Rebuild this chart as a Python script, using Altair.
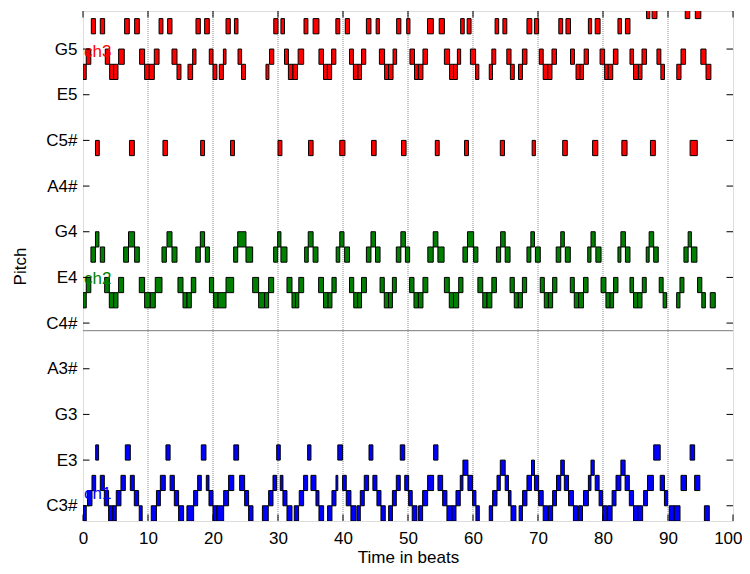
import altair as alt
import pandas as pd

# ---- note lists: (onset beat, offset beat, MIDI pitch)
ch1_notes = [
    (0.0, 0.5, 48), (0.7, 1.38, 49), (1.38, 1.95, 50), (1.95, 2.4, 52), (2.66, 3.28, 50),
    (3.28, 3.94, 49), (3.94, 4.61, 48), (4.61, 5.12, 48), (5.12, 5.84, 49), (5.84, 6.51, 50),
    (6.51, 7.28, 52), (7.28, 7.89, 50), (7.89, 8.56, 49), (8.65, 9.1, 48), (10.5, 11.3, 48),
    (11.3, 11.9, 49), (11.9, 12.66, 50), (12.76, 13.4, 52), (13.4, 14.05, 50), (14.05, 14.71, 49),
    (14.71, 15.48, 48), (15.99, 17.02, 48), (17.02, 17.64, 49), (17.64, 18.2, 50), (18.2, 18.92, 52),
    (18.97, 19.38, 50), (19.38, 20.0, 49), (20.0, 20.61, 48), (20.61, 21.64, 48), (21.64, 22.4, 49),
    (22.4, 23.2, 50), (23.2, 23.94, 52), (24.1, 24.87, 50), (24.87, 25.48, 49), (25.48, 26.15, 48),
    (27.6, 28.5, 48), (28.56, 29.23, 49), (29.23, 29.8, 50), (29.8, 30.35, 52), (30.35, 30.76, 50),
    (30.76, 31.38, 49), (31.38, 32.15, 48), (32.5, 33.17, 48), (33.27, 33.94, 49), (33.94, 34.56, 50),
    (34.56, 35.07, 52), (35.07, 35.84, 50), (35.84, 36.3, 49), (36.3, 37.02, 48), (37.63, 38.3, 48),
    (38.3, 38.92, 49), (38.92, 39.2, 50), (39.2, 39.94, 52), (39.94, 40.5, 50), (40.5, 41.22, 49),
    (41.22, 41.99, 48), (42.15, 42.66, 48), (42.66, 43.27, 49), (43.27, 43.94, 50), (44.0, 44.6, 52),
    (44.6, 45.22, 50), (45.22, 45.84, 49), (45.84, 46.5, 48), (47.02, 47.6, 48), (47.6, 48.2, 49),
    (48.2, 48.81, 50), (48.81, 49.5, 52), (49.5, 50.1, 50), (50.1, 50.65, 49), (50.65, 51.38, 48),
    (51.63, 52.25, 48), (52.25, 53.02, 49), (53.02, 53.94, 50), (53.94, 54.61, 52), (54.61, 55.33, 50),
    (55.33, 55.99, 49), (55.99, 56.76, 48), (56.76, 57.38, 48), (57.38, 58.04, 49), (58.04, 58.45, 50),
    (58.45, 59.22, 51), (59.22, 59.94, 50), (59.94, 60.45, 49), (60.45, 60.97, 48), (62.5, 63.02, 48),
    (63.02, 63.69, 49), (63.69, 64.2, 50), (64.2, 64.95, 51), (64.95, 65.45, 50), (65.45, 65.85, 49),
    (65.85, 66.6, 48), (67.1, 67.6, 48), (67.63, 68.3, 49), (68.3, 69.0, 50), (69.0, 69.45, 51),
    (69.45, 70.1, 50), (70.1, 70.8, 49), (70.8, 71.5, 48), (71.6, 72.25, 48), (72.25, 72.85, 49),
    (72.85, 73.5, 50), (73.5, 74.05, 51), (74.05, 74.7, 50), (74.7, 75.45, 49), (75.45, 76.1, 48),
    (76.25, 76.85, 48), (77.0, 77.75, 49), (77.75, 78.15, 50), (78.15, 78.65, 51), (78.8, 79.4, 50),
    (79.4, 79.95, 49), (79.95, 80.6, 48), (80.7, 81.4, 48), (81.4, 82.0, 49), (82.0, 82.75, 50),
    (82.75, 83.4, 51), (83.4, 84.05, 50), (84.05, 84.7, 49), (84.7, 85.35, 48), (85.35, 86.1, 48),
    (86.25, 86.85, 49), (86.85, 87.75, 50), (87.8, 88.8, 52), (88.8, 89.45, 50), (89.45, 89.95, 49),
    (90.2, 90.95, 48), (90.95, 91.85, 48), (92.0, 92.85, 50), (93.4, 94.1, 52), (94.1, 94.9, 50),
    (95.6, 96.35, 48),
]

ch2_notes = [
    (0.0, 0.5, 62), (0.5, 1.2, 63), (1.22, 1.92, 65), (1.92, 2.45, 66), (2.66, 3.33, 65),
    (3.33, 4.05, 63), (4.05, 4.71, 62), (4.71, 5.38, 62), (5.48, 6.25, 63), (6.25, 7.0, 65),
    (7.0, 7.94, 66), (7.94, 8.66, 65), (8.66, 9.48, 63), (9.48, 10.35, 62), (10.35, 11.12, 62),
    (11.12, 12.15, 63), (12.15, 12.82, 65), (12.92, 13.69, 66), (13.69, 14.46, 65), (14.61, 15.38, 63),
    (15.38, 16.0, 62), (16.0, 16.66, 62), (16.66, 17.35, 63), (17.35, 18.05, 65), (18.05, 18.71, 66),
    (18.82, 19.45, 65), (19.45, 20.1, 63), (20.1, 20.76, 62), (20.76, 22.0, 62), (22.0, 23.18, 63),
    (23.18, 23.8, 65), (23.8, 25.07, 66), (25.07, 26.1, 65), (26.1, 27.02, 63), (27.02, 27.94, 62),
    (27.94, 28.56, 62), (28.56, 29.33, 63), (29.33, 29.95, 65), (29.95, 30.45, 66), (30.45, 31.38, 65),
    (31.38, 32.15, 63), (32.15, 32.7, 62), (32.7, 33.2, 62), (33.2, 33.95, 63), (34.1, 34.65, 65),
    (34.65, 35.4, 66), (35.4, 36.15, 65), (36.25, 37.0, 63), (37.0, 37.7, 62), (37.7, 38.3, 62),
    (38.3, 38.95, 63), (38.95, 39.5, 65), (39.5, 40.15, 66), (40.25, 41.0, 65), (41.0, 41.65, 63),
    (41.65, 42.25, 62), (42.25, 42.85, 62), (42.85, 43.6, 63), (43.6, 44.3, 65), (44.3, 45.0, 66),
    (45.0, 45.7, 65), (45.7, 46.35, 63), (46.35, 47.0, 62), (47.0, 47.6, 62), (47.6, 48.2, 63),
    (48.2, 48.9, 65), (48.9, 49.6, 66), (49.6, 50.25, 65), (50.25, 50.92, 63), (50.92, 51.6, 62),
    (51.6, 52.3, 62), (52.3, 53.05, 63), (53.05, 53.88, 65), (53.88, 54.6, 66), (54.6, 55.55, 65),
    (55.6, 56.35, 63), (56.35, 57.0, 62), (57.0, 57.8, 62), (57.8, 58.45, 63), (58.45, 59.15, 65),
    (59.15, 60.1, 66), (60.1, 60.75, 65), (60.75, 61.5, 63), (61.5, 62.15, 62), (62.15, 62.9, 62),
    (62.9, 63.6, 63), (63.6, 64.25, 65), (64.25, 64.95, 66), (64.95, 65.7, 65), (65.7, 66.35, 63),
    (66.35, 66.97, 62), (66.97, 67.6, 62), (67.6, 68.25, 63), (68.3, 68.9, 65), (68.9, 69.45, 66),
    (69.6, 70.35, 65), (70.35, 70.97, 63), (70.97, 71.6, 62), (71.6, 72.25, 62), (72.25, 72.9, 63),
    (72.8, 73.5, 65), (73.5, 74.05, 66), (74.2, 74.97, 65), (74.97, 75.58, 63), (75.58, 76.25, 62),
    (76.25, 77.0, 62), (77.0, 77.7, 63), (77.65, 78.15, 65), (78.15, 78.8, 66), (78.9, 79.7, 65),
    (79.7, 80.45, 63), (80.45, 81.07, 62), (81.07, 81.63, 62), (81.63, 82.3, 63), (82.3, 82.75, 65),
    (82.75, 83.45, 66), (83.45, 84.15, 65), (84.15, 84.7, 63), (84.7, 85.33, 62), (85.33, 86.0, 62),
    (86.05, 86.65, 63), (86.65, 87.1, 65), (87.1, 87.8, 66), (87.8, 88.5, 65), (88.65, 89.25, 63),
    (89.25, 89.8, 62), (91.33, 91.84, 62), (91.84, 92.45, 63), (92.45, 93.1, 65), (93.1, 93.6, 66),
    (93.6, 94.45, 65), (94.55, 95.2, 63), (95.2, 95.75, 62), (96.5, 97.27, 62),
]

ch3_notes = [
    (0.0, 0.5, 77), (0.5, 1.2, 78), (1.28, 1.92, 80), (1.92, 2.5, 72), (2.66, 3.33, 80),
    (3.43, 4.1, 78), (4.1, 4.71, 77), (4.71, 5.38, 77), (5.48, 6.35, 78), (6.4, 7.12, 80),
    (7.15, 7.9, 72), (7.94, 8.66, 80), (8.71, 9.48, 78), (9.48, 10.2, 77), (10.2, 10.97, 77),
    (10.97, 11.7, 78), (11.7, 12.3, 80), (12.3, 13.0, 72), (13.02, 13.69, 80), (13.69, 14.46, 78),
    (14.46, 15.07, 77), (16.15, 16.87, 77), (16.87, 17.38, 78), (17.38, 18.05, 80), (18.1, 18.7, 72),
    (18.71, 19.43, 80), (19.43, 20.0, 78), (20.0, 20.6, 77), (20.97, 21.6, 77), (21.6, 22.0, 78),
    (22.0, 22.66, 80), (22.7, 23.3, 72), (23.3, 23.84, 80), (23.85, 24.4, 78), (24.4, 25.0, 77),
    (28.15, 28.6, 77), (28.7, 29.35, 78), (29.35, 30.0, 80), (30.0, 30.6, 72), (30.45, 31.0, 80),
    (31.0, 31.6, 78), (31.6, 32.3, 77), (32.3, 33.0, 77), (33.1, 33.95, 78), (34.0, 34.6, 80),
    (34.7, 35.4, 72), (35.4, 36.3, 80), (36.3, 37.0, 78), (37.0, 37.6, 77), (37.6, 38.25, 77),
    (38.25, 38.9, 78), (38.9, 39.5, 80), (39.5, 40.3, 72), (40.35, 41.0, 80), (41.0, 41.6, 78),
    (41.6, 42.3, 77), (42.3, 42.85, 77), (42.85, 43.5, 78), (43.6, 44.3, 80), (44.4, 45.1, 72),
    (45.1, 45.6, 80), (45.6, 46.4, 78), (46.4, 47.0, 77), (47.0, 47.7, 77), (47.7, 48.25, 78),
    (48.25, 48.9, 80), (49.0, 49.7, 72), (49.8, 50.3, 80), (50.3, 51.0, 78), (51.0, 51.6, 77),
    (51.6, 52.3, 77), (52.3, 53.0, 78), (53.0, 53.9, 80), (54.2, 54.8, 72), (54.8, 55.6, 80),
    (55.6, 56.4, 78), (56.4, 57.0, 77), (57.0, 57.6, 77), (57.6, 58.1, 78), (58.1, 58.65, 80),
    (58.7, 59.3, 72), (59.1, 59.7, 80), (59.6, 60.4, 78), (60.4, 60.9, 77), (62.5, 63.0, 77),
    (62.9, 63.5, 78), (63.4, 63.95, 80), (64.2, 64.85, 72), (64.6, 65.2, 80), (65.2, 65.85, 78),
    (65.75, 66.35, 77), (67.0, 67.6, 77), (67.6, 68.3, 78), (68.3, 69.05, 80), (69.1, 69.6, 72),
    (69.45, 70.1, 80), (70.2, 70.8, 78), (70.8, 71.5, 77), (71.5, 72.15, 77), (72.15, 72.85, 78),
    (73.2, 73.8, 80), (73.8, 74.5, 72), (74.3, 75.0, 80), (75.0, 75.6, 78), (75.85, 76.45, 77),
    (76.45, 77.0, 77), (77.1, 77.75, 78), (77.75, 78.25, 80), (78.4, 79.2, 72), (78.8, 79.55, 80),
    (79.55, 80.25, 78), (80.25, 80.8, 77), (80.8, 81.5, 77), (81.6, 82.3, 78), (82.3, 82.85, 80),
    (82.9, 83.7, 72), (83.45, 84.15, 80), (84.15, 84.7, 78), (84.7, 85.45, 77), (85.45, 86.0, 77),
    (86.0, 86.7, 78), (86.7, 87.2, 81), (87.3, 88.05, 72), (87.55, 88.3, 81), (88.3, 88.9, 78),
    (88.9, 89.45, 77), (91.35, 92.0, 77), (92.0, 92.7, 78), (92.65, 93.35, 81), (93.4, 94.5, 72),
    (94.2, 95.05, 81), (95.05, 95.85, 78), (95.85, 96.6, 77),
]

x_ticks = list(range(0, 101, 10))
grid_x = list(range(10, 100, 10))
y_ticks = [49, 52, 55, 58, 61, 64, 67, 70, 73, 76, 79]
y_names = ["C3#", "E3", "G3", "A3#", "C4#", "E4", "G4", "A4#", "C5#", "E5", "G5"]
ch_labels = ["ch1", "ch2", "ch3"]
ch_label_y = [49.8, 63.9, 78.8]
ch_colors = ["#0000ff", "#008000", "#ff0000"]
split_line = [60.5]

rows = []
for ch, lst in zip(ch_labels, [ch1_notes, ch2_notes, ch3_notes]):
    for on, off, p in lst:
        rows.append({"on": on, "off": off, "pitch": p, "hi": p + 1, "ch": ch})
df = pd.DataFrame(rows)

W, H = 650, 510
xs = alt.Scale(domain=[0, 100], nice=False, zero=False)
ys = alt.Scale(domain=[48, 81.5], nice=False, zero=False)

label_expr = ""
for v, n in zip(y_ticks, y_names):
    nm = n if n.endswith("#") else n + "\u00a0"
    label_expr += f"datum.value == {v} ? '{nm}' : "
label_expr += "''"

FONT = "Liberation Sans"
FS = 17

grid = alt.Chart(pd.DataFrame({"x": grid_x})).mark_rule(
    color="#8c8c8c", strokeWidth=1, strokeDash=[1, 1]
).encode(x=alt.X("x:Q", scale=xs))

cline = alt.Chart(pd.DataFrame({"y": split_line})).mark_rule(
    color="#7a7a7a", strokeWidth=1
).encode(y=alt.Y("y:Q", scale=ys), x=alt.value(0), x2=alt.value(W))

notes = alt.Chart(df).mark_rect(stroke="black", strokeWidth=1, clip=True).encode(
    x=alt.X("on:Q", scale=xs,
            axis=alt.Axis(values=x_ticks, title="Time in beats", ticks=False, domain=False,
                          grid=False, labelFont=FONT, labelFontSize=FS, labelColor="black",
                          labelPadding=9, titleFont=FONT, titleFontSize=FS,
                          titleFontWeight="normal", titleColor="black", titlePadding=3,
                          labelFlush=False,
                          labelAlign={"condition": {"test": "datum.value == 100", "value": "right"},
                                      "value": "center"},
                          labelOffset={"condition": {"test": "datum.value == 100", "value": 9},
                                       "value": 0})),
    x2="off:Q",
    y=alt.Y("pitch:Q", scale=ys,
            axis=alt.Axis(values=y_ticks, labelExpr=label_expr, title="Pitch", ticks=False,
                          domain=False, grid=False, labelFont=FONT, labelFontSize=FS,
                          labelColor="black", labelPadding=6, labelAlign="right",
                          labelBaseline="middle", titleFont=FONT, titleFontSize=FS,
                          titleFontWeight="normal", titleColor="black", titleX=-63,
                          titleBaseline="middle", labelFlush=False)),
    y2="hi:Q",
    color=alt.Color("ch:N", scale=alt.Scale(domain=ch_labels, range=ch_colors), legend=None),
)

labels = alt.Chart(pd.DataFrame({"t": ch_labels, "y": ch_label_y, "x": [0, 0, 0]})).mark_text(
    align="left", baseline="middle", font=FONT, fontSize=FS, dx=1
).encode(
    x=alt.X("x:Q", scale=xs), y=alt.Y("y:Q", scale=ys), text="t:N",
    color=alt.Color("t:N", scale=alt.Scale(domain=ch_labels, range=ch_colors), legend=None),
)

TL = 6.5
xt = pd.DataFrame({"x": x_ticks})
yt = pd.DataFrame({"y": y_ticks})
tb = alt.Chart(xt).mark_rule(color="black").encode(x=alt.X("x:Q", scale=xs), y=alt.value(H), y2=alt.value(H - TL))
tt = alt.Chart(xt).mark_rule(color="black").encode(x=alt.X("x:Q", scale=xs), y=alt.value(0), y2=alt.value(TL))
tl = alt.Chart(yt).mark_rule(color="black").encode(y=alt.Y("y:Q", scale=ys), x=alt.value(0), x2=alt.value(TL))
tr = alt.Chart(yt).mark_rule(color="black").encode(y=alt.Y("y:Q", scale=ys), x=alt.value(W), x2=alt.value(W - TL))

chart = alt.layer(grid, cline, notes, labels, tb, tt, tl, tr).properties(
    width=W, height=H, autosize=alt.AutoSizeParams(type="none"),
    padding={"left": 75, "top": 3, "right": 9, "bottom": 45},
).configure_view(stroke="black", strokeWidth=1).configure(background="white")

chart.save("out.html", embed_options={"renderer": "svg", "actions": False})
